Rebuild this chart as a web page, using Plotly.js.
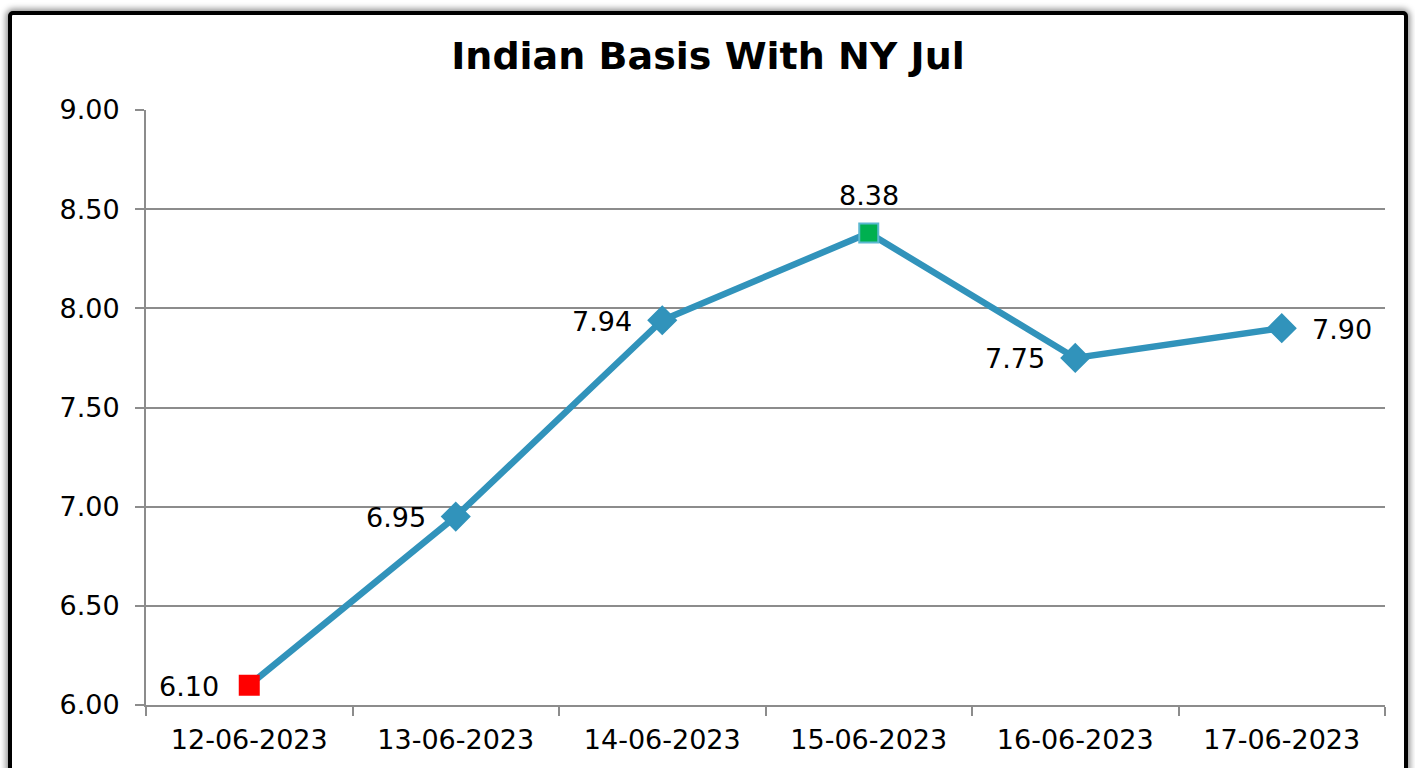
<!DOCTYPE html>
<html>
<head>
<meta charset="utf-8">
<script src="https://cdn.plot.ly/plotly-3.0.1.min.js"></script>
<style>
  html, body { margin:0; padding:0; background:#ffffff; width:1415px; height:768px; overflow:hidden; }
  #frame { position:absolute; left:8px; top:11px; width:1392px; height:800px; border:4px solid #000; border-radius:5px; box-shadow:0 0 6px 2px rgba(0,0,0,0.45); background:#fff; }
  #chart { position:absolute; left:0; top:0; width:1415px; height:768px; }
</style>
</head>
<body>
<div id="frame"></div>
<div id="chart"></div>
<script>
const categories = ["12-06-2023","13-06-2023","14-06-2023","15-06-2023","16-06-2023","17-06-2023"];
const values = [6.10, 6.95, 7.94, 8.38, 7.75, 7.90];
const labelSides = ["left","left","left","top","left","right"];
const yTicks = [6.0, 6.5, 7.0, 7.5, 8.0, 8.5, 9.0];

const FONT = "DejaVu Sans, Verdana, sans-serif";
const lineColor = "#3193bb";
const markerColors = values.map((v,i) => i === 0 ? "#ff0000" : (i === 3 ? "#00b050" : lineColor));
const markerSymbols = values.map((v,i) => (i === 0 || i === 3) ? "square" : "diamond");
const markerSizes = values.map((v,i) => (i === 0 || i === 3) ? 19 : 21);
const markerLineColors = values.map((v,i) => i === 3 ? "#5bb8d0" : (i === 0 ? "#ff0000" : lineColor));

const trace = {
  x: categories,
  y: values,
  type: "scatter",
  mode: "lines+markers",
  line: {color: lineColor, width: 6.5},
  marker: {color: markerColors, symbol: markerSymbols, size: markerSizes, opacity: 1,
           line: {color: markerLineColors, width: 2}},
  opacity: 1,
  cliponaxis: false,
  hoverinfo: "x+y"
};

const annotations = values.map((v, i) => {
  const side = labelSides[i];
  const a = {
    x: categories[i], y: v, xref: "x", yref: "y",
    text: v.toFixed(2), showarrow: false,
    font: {family: FONT, size: 27, color: "#000"}
  };
  if (side === "left") { a.xanchor = "right"; a.yanchor = "middle"; a.xshift = -28; a.yshift = -1; }
  else if (side === "right") { a.xanchor = "left"; a.yanchor = "middle"; a.xshift = 28; a.yshift = -1; }
  else { a.xanchor = "center"; a.yanchor = "middle"; a.yshift = 37; }
  return a;
});

const layout = {
  width: 1415, height: 768,
  paper_bgcolor: "rgba(0,0,0,0)",
  plot_bgcolor: "rgba(0,0,0,0)",
  margin: {l:146, r:30, t:110, b:63},
  showlegend: false,
  annotations: annotations,
  title: {
    text: "<b>Indian Basis With NY Jul</b>",
    font: {family: FONT, size: 38, color: "#000"},
    x: 708/1415, xanchor: "center", xref: "container",
    y: 1 - 56/768, yanchor: "middle", yref: "container"
  },
  xaxis: {
    type: "category",
    categoryorder: "array", categoryarray: categories,
    range: [-0.5, 5.5],
    tickson: "boundaries",
    ticks: "outside", ticklen: 9, tickwidth: 2, tickcolor: "#8c8c8c",
    showline: true, linecolor: "#8c8c8c", linewidth: 2,
    showgrid: false, zeroline: false,
    tickfont: {family: FONT, size: 27, color: "#000"},
    ticklabelstandoff: 10,
    fixedrange: true
  },
  yaxis: {
    range: [6, 9],
    tickvals: yTicks,
    ticktext: yTicks.map(v => v.toFixed(2)),
    ticks: "outside", ticklen: 9, tickwidth: 2, tickcolor: "#8c8c8c",
    showline: true, linecolor: "#8c8c8c", linewidth: 2,
    showgrid: true, gridcolor: "#8c8c8c", gridwidth: 2,
    zeroline: false,
    tickfont: {family: FONT, size: 27, color: "#000"},
    ticklabelstandoff: 10,
    fixedrange: true
  }
};

Plotly.newPlot("chart", [trace], layout, {displayModeBar: false, staticPlot: true});
</script>
</body>
</html>
